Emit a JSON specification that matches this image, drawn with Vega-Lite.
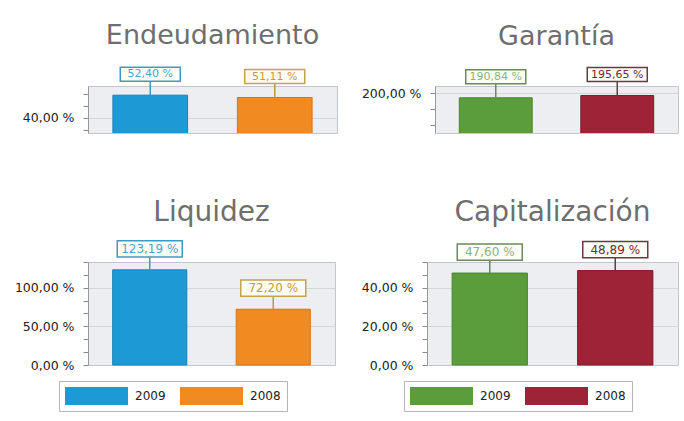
{
  "$schema": "https://vega.github.io/schema/vega-lite/v6.json",
  "background": "white",
  "padding": {"left": 13, "top": 21, "right": 0, "bottom": 0},
  "data": {"values": [
    {"indicador": "Endeudamiento", "anio": "2009", "valor": 0.5240},
    {"indicador": "Endeudamiento", "anio": "2008", "valor": 0.5111},
    {"indicador": "Garantía", "anio": "2009", "valor": 1.9084},
    {"indicador": "Garantía", "anio": "2008", "valor": 1.9565},
    {"indicador": "Liquidez", "anio": "2009", "valor": 1.2319},
    {"indicador": "Liquidez", "anio": "2008", "valor": 0.7220},
    {"indicador": "Capitalización", "anio": "2009", "valor": 0.4760},
    {"indicador": "Capitalización", "anio": "2008", "valor": 0.4889}
  ]},
  "config": {
    "locale": {"number": {"decimal": ",", "thousands": ".", "grouping": [3], "currency": ["", " €"], "percent": " %"}},
    "view": {"fill": "#eceef1", "stroke": "#c3c7cc", "strokeWidth": 1},
    "title": {"font": "DejaVu Sans", "fontWeight": "normal", "color": "#6e6e6e", "anchor": "middle", "offset": 14},
    "axisY": {"labelFont": "DejaVu Sans", "labelFontSize": 12.5, "labelColor": "#222222", "tickColor": "#8a8a8a", "domainColor": "#9a9a9a", "tickSize": 5, "labelPadding": 9, "gridColor": "#d3d6da", "title": null, "format": ".2%"}
  },
  "vconcat": [
    {
      "hconcat": [
        {
          "title": {"text": "Endeudamiento", "fontSize": 27},
          "width": 249, "height": 47,
          "transform": [{"filter": "datum.indicador === 'Endeudamiento'"}],
          "encoding": {
            "x": {"field": "anio", "type": "nominal", "sort": ["2009", "2008"], "axis": null, "scale": {"paddingInner": 0.4, "paddingOuter": 0.2}},
            "y": {"field": "valor", "type": "quantitative", "scale": {"domain": [0.314, 0.575], "nice": false, "zero": false},
              "axis": {"values": [0.33333, 0.4, 0.46667, 0.53333], "labelExpr": "abs(datum.value*5 - round(datum.value*5)) < 0.001 ? datum.label : ''", "gridOpacity": {"condition": {"test": "abs(datum.value*5 - round(datum.value*5)) < 0.001", "value": 1}, "value": 0}, "minExtent": 74, "maxExtent": 74}}
          },
          "layer": [
            {"mark": {"type": "bar", "clip": true, "strokeWidth": 1},
             "encoding": {"color": {"field": "anio", "type": "nominal", "scale": {"domain": ["2009", "2008"], "range": ["#1c9ad6", "#f28a22"]}, "legend": null},
               "stroke": {"condition": {"test": "datum.anio === '2009'", "value": "#1682bb"}, "value": "#d87418"}}},
            {"mark": {"type": "rule", "y2Offset": -14, "strokeWidth": 1.5},
             "encoding": {"y2": {"field": "valor"}, "color": {"condition": {"test": "datum.anio === '2009'", "value": "#3a9cc2"}, "value": "#b99a3e"}}},
            {"mark": {"type": "point", "shape": "M-1,-0.2333H1V0.2333H-1Z", "size": 3600, "filled": true, "fill": "#fdfdf8", "strokeWidth": 1.5, "opacity": 1, "yOffset": -21},
             "encoding": {"stroke": {"condition": {"test": "datum.anio === '2009'", "value": "#3a9cc2"}, "value": "#c2a44a"}}},
            {"mark": {"type": "text", "yOffset": -21, "font": "DejaVu Sans", "fontSize": 11, "baseline": "middle", "align": "center"},
             "encoding": {"text": {"field": "valor", "type": "quantitative", "format": ".2%"}, "color": {"condition": {"test": "datum.anio === '2009'", "value": "#4aa6c8"}, "value": "#c49c3a"}}}
          ]
        },
        {
          "title": {"text": "Garantía", "fontSize": 27},
          "width": 243, "height": 47,
          "transform": [{"filter": "datum.indicador === 'Garantía'"}],
          "encoding": {
            "x": {"field": "anio", "type": "nominal", "sort": ["2009", "2008"], "axis": null, "scale": {"paddingInner": 0.4, "paddingOuter": 0.2}},
            "y": {"field": "valor", "type": "quantitative", "scale": {"domain": [1.159, 2.159], "nice": false, "zero": false},
              "axis": {"values": [1.33333, 1.66667, 2.0], "labelExpr": "abs(datum.value - round(datum.value)) < 0.001 ? datum.label : ''", "gridOpacity": {"condition": {"test": "abs(datum.value - round(datum.value)) < 0.001", "value": 1}, "value": 0}, "minExtent": 74, "maxExtent": 74}}
          },
          "layer": [
            {"mark": {"type": "bar", "clip": true, "strokeWidth": 1},
             "encoding": {"color": {"field": "anio", "type": "nominal", "scale": {"domain": ["2009", "2008"], "range": ["#5b9c3d", "#9e2337"]}, "legend": null},
               "stroke": {"condition": {"test": "datum.anio === '2009'", "value": "#4a8630"}, "value": "#7f1a2a"}}},
            {"mark": {"type": "rule", "y2Offset": -14, "strokeWidth": 1.5},
             "encoding": {"y2": {"field": "valor"}, "color": {"condition": {"test": "datum.anio === '2009'", "value": "#6a8a58"}, "value": "#6a3a42"}}},
            {"mark": {"type": "point", "shape": "M-1,-0.2333H1V0.2333H-1Z", "size": 3600, "filled": true, "fill": "#fdfdf8", "strokeWidth": 1.5, "opacity": 1, "yOffset": -21},
             "encoding": {"stroke": {"condition": {"test": "datum.anio === '2009'", "value": "#6a8a58"}, "value": "#6a3a42"}}},
            {"mark": {"type": "text", "yOffset": -21, "font": "DejaVu Sans", "fontSize": 11, "baseline": "middle", "align": "center"},
             "encoding": {"text": {"field": "valor", "type": "quantitative", "format": ".2%"}, "color": {"condition": {"test": "datum.anio === '2009'", "value": "#8fb27a"}, "value": "#6e2a36"}}}
          ]
        }
      ],
      "spacing": 22,
      "resolve": {"scale": {"x": "independent", "y": "independent", "color": "independent"}, "legend": {"color": "independent"}}
    },
    {
      "hconcat": [
        {
          "title": {"text": "Liquidez", "fontSize": 28, "offset": 11},
          "width": 247, "height": 103,
          "transform": [{"filter": "datum.indicador === 'Liquidez'"}],
          "encoding": {
            "x": {"field": "anio", "type": "nominal", "sort": ["2009", "2008"], "axis": null, "scale": {"paddingInner": 0.4, "paddingOuter": 0.2}},
            "y": {"field": "valor", "type": "quantitative", "scale": {"domain": [0, 1.33333], "nice": false},
              "axis": {"values": [0, 0.16667, 0.33333, 0.5, 0.66667, 0.83333, 1, 1.16667, 1.33333], "labelExpr": "abs(datum.value*2 - round(datum.value*2)) < 0.001 ? datum.label : ''", "gridOpacity": {"condition": {"test": "abs(datum.value*2 - round(datum.value*2)) < 0.001 && datum.value > 0", "value": 1}, "value": 0}, "minExtent": 74, "maxExtent": 74}}
          },
          "layer": [
            {"mark": {"type": "bar", "strokeWidth": 1},
             "encoding": {"color": {"field": "anio", "type": "nominal", "scale": {"domain": ["2009", "2008"], "range": ["#1c9ad6", "#f28a22"]},
                "legend": {"orient": "none", "legendX": -29, "legendY": 119, "direction": "horizontal", "title": null, "symbolType": "M-1,-1H6V1H-1Z", "symbolSize": 324, "labelOffset": 52, "labelFont": "DejaVu Sans", "labelFontSize": 12, "labelColor": "#222222", "fillColor": "white", "strokeColor": "#b5b5b5", "padding": 6, "columnPadding": 14, "symbolStrokeWidth": 0, "symbolOpacity": 1}},
               "stroke": {"condition": {"test": "datum.anio === '2009'", "value": "#1682bb"}, "value": "#d87418"}}},
            {"mark": {"type": "rule", "y2Offset": -13, "strokeWidth": 1.5},
             "encoding": {"y2": {"field": "valor"}, "color": {"condition": {"test": "datum.anio === '2009'", "value": "#3a9cc2"}, "value": "#b99a3e"}}},
            {"mark": {"type": "point", "shape": "M-1,-0.25H1V0.25H-1Z", "size": 4225, "filled": true, "fill": "#fdfdf8", "strokeWidth": 1.5, "opacity": 1, "yOffset": -21},
             "encoding": {"stroke": {"condition": {"test": "datum.anio === '2009'", "value": "#3a9cc2"}, "value": "#c2a44a"}}},
            {"mark": {"type": "text", "yOffset": -21, "font": "DejaVu Sans", "fontSize": 12, "baseline": "middle", "align": "center"},
             "encoding": {"text": {"field": "valor", "type": "quantitative", "format": ".2%"}, "color": {"condition": {"test": "datum.anio === '2009'", "value": "#4aa6c8"}, "value": "#c49c3a"}}}
          ]
        },
        {
          "title": {"text": "Capitalización", "fontSize": 28, "offset": 11},
          "width": 251, "height": 103,
          "transform": [{"filter": "datum.indicador === 'Capitalización'"}],
          "encoding": {
            "x": {"field": "anio", "type": "nominal", "sort": ["2009", "2008"], "axis": null, "scale": {"paddingInner": 0.4, "paddingOuter": 0.2}},
            "y": {"field": "valor", "type": "quantitative", "scale": {"domain": [0, 0.53333], "nice": false},
              "axis": {"values": [0, 0.06667, 0.13333, 0.2, 0.26667, 0.33333, 0.4, 0.46667, 0.53333], "labelExpr": "abs(datum.value*5 - round(datum.value*5)) < 0.001 ? datum.label : ''", "gridOpacity": {"condition": {"test": "abs(datum.value*5 - round(datum.value*5)) < 0.001 && datum.value > 0", "value": 1}, "value": 0}, "minExtent": 74, "maxExtent": 74}}
          },
          "layer": [
            {"mark": {"type": "bar", "strokeWidth": 1},
             "encoding": {"color": {"field": "anio", "type": "nominal", "scale": {"domain": ["2009", "2008"], "range": ["#5b9c3d", "#9e2337"]},
                "legend": {"orient": "none", "legendX": -23, "legendY": 119, "direction": "horizontal", "title": null, "symbolType": "M-1,-1H6V1H-1Z", "symbolSize": 324, "labelOffset": 52, "labelFont": "DejaVu Sans", "labelFontSize": 12, "labelColor": "#222222", "fillColor": "white", "strokeColor": "#b5b5b5", "padding": 6, "columnPadding": 14, "symbolStrokeWidth": 0, "symbolOpacity": 1}},
               "stroke": {"condition": {"test": "datum.anio === '2009'", "value": "#4a8630"}, "value": "#7f1a2a"}}},
            {"mark": {"type": "rule", "y2Offset": -13, "strokeWidth": 1.5},
             "encoding": {"y2": {"field": "valor"}, "color": {"condition": {"test": "datum.anio === '2009'", "value": "#6a8a58"}, "value": "#6a3a42"}}},
            {"mark": {"type": "point", "shape": "M-1,-0.25H1V0.25H-1Z", "size": 4225, "filled": true, "fill": "#fdfdf8", "strokeWidth": 1.5, "opacity": 1, "yOffset": -21},
             "encoding": {"stroke": {"condition": {"test": "datum.anio === '2009'", "value": "#6a8a58"}, "value": "#6a3a42"}}},
            {"mark": {"type": "text", "yOffset": -21, "font": "DejaVu Sans", "fontSize": 12, "baseline": "middle", "align": "center"},
             "encoding": {"text": {"field": "valor", "type": "quantitative", "format": ".2%"}, "color": {"condition": {"test": "datum.anio === '2009'", "value": "#8fb27a"}, "value": "#6e2a36"}}}
          ]
        }
      ],
      "spacing": 16,
      "resolve": {"scale": {"x": "independent", "y": "independent", "color": "independent"}, "legend": {"color": "independent"}}
    }
  ],
  "spacing": 64,
  "resolve": {"scale": {"x": "independent", "y": "independent", "color": "independent"}, "legend": {"color": "independent"}}
}
